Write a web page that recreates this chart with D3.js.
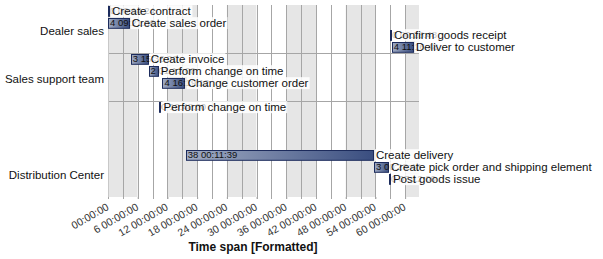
<!DOCTYPE html>
<html>
<head>
<meta charset="utf-8">
<script src="https://cdn.jsdelivr.net/npm/d3@7"></script>
<style>
  body { margin: 0; background: #fff; }
  svg { font-family: "Liberation Sans", Arial, sans-serif; }
</style>
</head>
<body>
<div id="chart"></div>
<script>
// groups on the y axis and how many rows each one holds
var groupNames = ["Dealer sales", "Sales support team", "Distribution Center"];
var groupRows = [4, 4, 8];

// activities
var taskGroup = [0, 0, 0, 0, 1, 1, 1, 2, 2, 2, 2];
var taskRow = [0, 1, 2, 3, 0, 1, 2, 0, 4, 5, 6];
var taskNames = ["Create contract", "Create sales order", "Confirm goods receipt", "Deliver to customer",
  "Create invoice", "Perform change on time", "Change customer order",
  "Perform change on time", "Create delivery", "Create pick order and shipping element", "Post goods issue"];
var taskStart = [0, 0, 56.95, 57.3, 4.6, 8.2, 11.0, 10.35, 15.7, 53.71, 56.72];   // days
var taskDays = [0.01, 4.39, 0.02, 4.47, 3.65, 2.05, 4.68, 0.45, 38.00809, 3.02, 0.3];

// x axis ticks, days
var tickDays = [0, 6, 12, 18, 24, 30, 36, 42, 48, 54, 60];

var svgWidth = 603, svgHeight = 259;
var margin = { top: 5, left: 108, right: 184, bottom: 62 };
var width = svgWidth - margin.left - margin.right;
var height = svgHeight - margin.top - margin.bottom;

var svg = d3.select("#chart").append("svg")
  .attr("width", svgWidth)
  .attr("height", svgHeight);

var chartGroup = svg.append("g")
  .attr("transform", `translate(${margin.left}, ${margin.top})`);

var totalRows = d3.sum(groupRows);
var groupStart = groupRows.map((n, i) => d3.sum(groupRows.slice(0, i)));

var xScale = d3.scaleLinear().domain([0, 62.8]).range([0, width]);
var yScale = d3.scaleBand().domain(d3.range(totalRows)).range([0, height]).paddingInner(0.1).paddingOuter(0.05);
var rowStep = yScale.step();

function fmt(days) {
  var secs = Math.round(days * 86400);
  var d = Math.floor(secs / 86400); secs -= d * 86400;
  var h = Math.floor(secs / 3600); secs -= h * 3600;
  var m = Math.floor(secs / 60); var s = secs - m * 60;
  var p = v => String(v).padStart(2, "0");
  return `${d} ${p(h)}:${p(m)}:${p(s)}`;
}

// alternating bands, 6 days wide
var bandDays = d3.range(0, 63, 6);
chartGroup.selectAll(".band")
  .data(bandDays)
  .enter()
  .append("rect")
  .attr("x", d => xScale(d))
  .attr("y", 0)
  .attr("width", d => Math.min(xScale(d + 6), width) - xScale(d))
  .attr("height", height)
  .attr("fill", (d, i) => i % 2 === 0 ? "#e6e6e6" : "#ffffff");

// vertical grid every 3 days
chartGroup.selectAll(".vgrid")
  .data(d3.range(3, 63, 3))
  .enter()
  .append("line")
  .attr("x1", d => Math.round(xScale(d)) + 0.5)
  .attr("x2", d => Math.round(xScale(d)) + 0.5)
  .attr("y1", 0)
  .attr("y2", height + 2)
  .attr("stroke", "#a6a6a6");

// group separators
chartGroup.selectAll(".hgrid")
  .data(groupStart.slice(1))
  .enter()
  .append("line")
  .attr("x1", 0)
  .attr("x2", width)
  .attr("y1", d => Math.round(d * rowStep) + 0.5)
  .attr("y2", d => Math.round(d * rowStep) + 0.5)
  .attr("stroke", "#a6a6a6");

// left axis line
chartGroup.append("line")
  .attr("x1", 0.5).attr("x2", 0.5)
  .attr("y1", 0).attr("y2", height)
  .attr("stroke", "#c8c8c8");

// x axis
var bottomAxis = d3.axisBottom(xScale)
  .tickValues(tickDays)
  .tickSize(2)
  .tickFormat(d => d === 0 ? "00:00:00" : fmt(d));

var xAxisG = chartGroup.append("g")
  .attr("transform", `translate(0, ${height})`)
  .call(bottomAxis);
xAxisG.select(".domain").remove();
xAxisG.selectAll("line").attr("stroke", "#a6a6a6");
xAxisG.selectAll("text")
  .attr("font-family", "Liberation Sans, Arial, sans-serif")
  .attr("font-size", "10.5px")
  .attr("fill", "#333")
  .style("text-anchor", "end")
  .attr("x", 0)
  .attr("y", 0)
  .attr("dy", 0)
  .attr("transform", "translate(1, 12) rotate(-30)");

// group labels (centered on the last four rows of each group)
chartGroup.selectAll(".glabel")
  .data(groupNames)
  .enter()
  .append("text")
  .attr("x", -4)
  .attr("y", (d, i) => (groupStart[i] + groupRows[i] - 2) * rowStep)
  .attr("dy", "0.55em")
  .attr("text-anchor", "end")
  .attr("font-size", "11.5px")
  .attr("fill", "#111")
  .text(d => d);

// tasks
var tasks = taskNames.map((n, i) => ({
  name: n, row: groupStart[taskGroup[i]] + taskRow[i],
  start: taskStart[i], days: taskDays[i], id: i
}));

var defs = svg.append("defs");
var grad = defs.append("linearGradient").attr("id", "barGrad")
  .attr("x1", 0).attr("x2", 1).attr("y1", 0).attr("y2", 0);
grad.append("stop").attr("offset", "0%").attr("stop-color", "#a0abc3");
grad.append("stop").attr("offset", "100%").attr("stop-color", "#3a4e80");

var barX = d => xScale(d.start);
var barW = d => Math.max(2, xScale(d.start + d.days) - xScale(d.start));
var midY = d => yScale(d.row) + yScale.bandwidth() / 2;

tasks.forEach(d => {
  defs.append("clipPath").attr("id", "clip" + d.id)
    .append("rect")
    .attr("x", barX(d))
    .attr("y", yScale(d.row))
    .attr("width", barW(d))
    .attr("height", yScale.bandwidth());
});

var taskG = chartGroup.selectAll(".task")
  .data(tasks)
  .enter()
  .append("g");

// faint overflow of the duration text
taskG.append("text")
  .attr("x", d => barX(d) + 2)
  .attr("y", midY)
  .attr("dy", "0.36em")
  .attr("font-size", "9.5px")
  .attr("fill", "#c4c4c4")
  .text(d => fmt(d.days));

taskG.append("rect")
  .attr("x", d => Math.round(barX(d)) + 0.5)
  .attr("y", d => Math.round(yScale(d.row)) + 0.5)
  .attr("width", d => Math.max(1, Math.round(barW(d)) - 1))
  .attr("height", yScale.bandwidth() - 1)
  .attr("fill", "url(#barGrad)")
  .attr("stroke", "#1c2b5c");

// duration text inside the bar
taskG.append("text")
  .attr("clip-path", d => `url(#clip${d.id})`)
  .attr("x", d => barX(d) + 2)
  .attr("y", midY)
  .attr("dy", "0.36em")
  .attr("font-size", "9.5px")
  .attr("fill", "#111")
  .text(d => fmt(d.days));

// activity labels with light backdrop
taskG.append("text")
  .attr("x", d => barX(d) + barW(d) + 2)
  .attr("y", midY)
  .attr("dy", "0.36em")
  .attr("font-size", "11.5px")
  .attr("fill", "#111")
  .text(d => d.name)
  .each(function () {
    var b = this.getBBox();
    d3.select(this.parentNode).insert("rect", ":first-child")
      .attr("x", b.x - 1)
      .attr("y", b.y)
      .attr("width", b.width + 2)
      .attr("height", b.height)
      .attr("fill", "#fff")
      .attr("opacity", 0.85);
  });

// axis title
svg.append("text")
  .attr("x", 253)
  .attr("y", 251)
  .attr("text-anchor", "middle")
  .attr("font-size", "12px")
  .attr("font-weight", "bold")
  .attr("fill", "#111")
  .text("Time span [Formatted]");
</script>
</body>
</html>
